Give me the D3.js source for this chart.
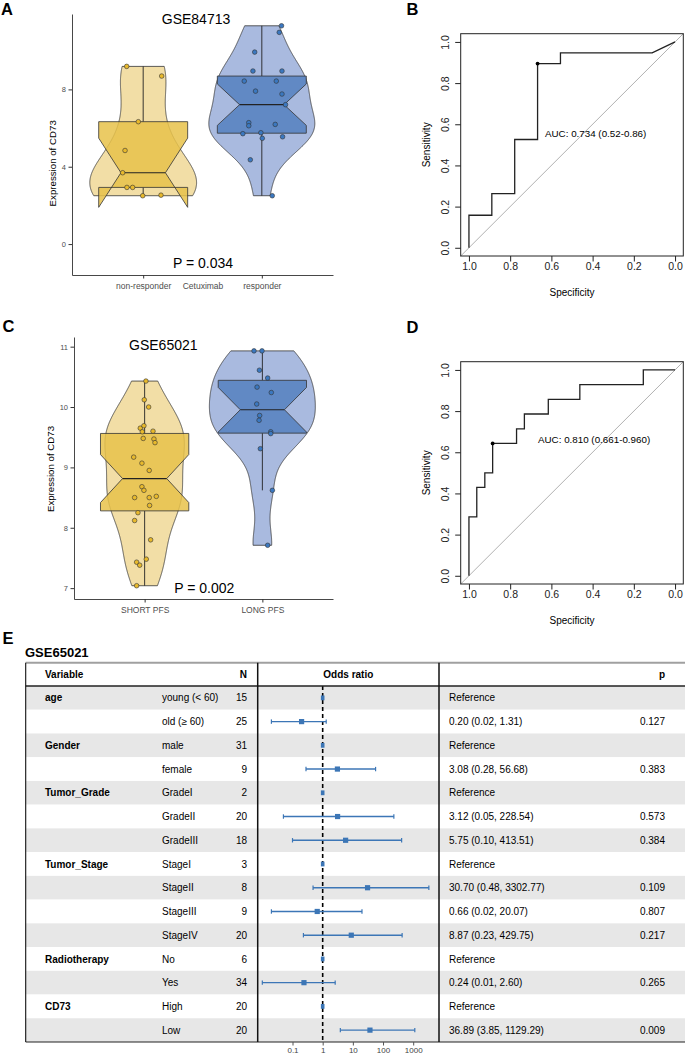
<!DOCTYPE html>
<html>
<head>
<meta charset="utf-8">
<script src="https://cdn.jsdelivr.net/npm/d3@7"></script>
<style>
  body { margin: 0; background: #fff; }
  svg { display: block; }
</style>
</head>
<body>
<svg id="fig" width="685" height="1054"></svg>
<script>
// ---- panel A : GSE84713, Cetuximab response
var groupsA = ["non-responder", "responder"];
var nonRespA = [9.19, 8.69, 6.33, 4.84, 3.69, 2.93, 2.93, 2.50, 2.53];
var nonRespJitA = [-0.139, 0.156, -0.041, -0.153, -0.173, -0.137, -0.089, -0.004, 0.150];
var respA = [11.29, 10.95, 9.93, 8.95, 8.95, 8.43, 8.43, 7.91, 7.76, 7.21, 6.28, 6.12, 6.19, 5.71, 5.76, 5.47, 5.55, 4.36, 2.50];
var respJitA = [0.166, 0.147, -0.06, -0.075, 0.17, -0.148, 0.122, -0.053, 0.17, 0.20, -0.11, -0.11, 0.113, -0.16, -0.008, 0.004, 0.175, -0.097, 0.088];
var ticksA = [0, 4, 8];

// ---- panel C : GSE65021, PFS
var groupsC = ["SHORT PFS", "LONG PFS"];
var shortC = [10.43, 10.12, 10.0, 9.65, 9.69, 9.59, 9.60, 9.48, 9.47, 9.41, 9.17, 9.07, 8.95, 8.68, 8.62, 8.50, 8.50, 8.52, 8.37, 8.25, 8.12, 7.80, 7.48, 7.43, 7.38, 7.04];
var shortJitC = [0.011, -0.003, 0.034, -0.037, -0.006, -0.02, 0.071, -0.012, 0.079, 0.088, -0.093, -0.023, 0.039, -0.023, -0.006, -0.085, 0.039, 0.099, 0.042, -0.057, -0.085, 0.051, 0.014, -0.068, -0.042, -0.068];
var longC = [10.93, 10.93, 10.61, 10.48, 10.33, 10.24, 10.05, 9.86, 9.78, 9.59, 9.56, 9.31, 8.62, 7.71];
var longJitC = [-0.071, -0.003, -0.025, 0.045, -0.045, 0.076, -0.048, -0.023, -0.028, 0.071, 0.071, -0.017, 0.085, 0.045];
var ticksC = [7, 8, 9, 10, 11];

// ---- ROC curves (specificity, sensitivity)
var rocSpecB = [1, 1, 0.889, 0.889, 0.778, 0.778, 0.667, 0.667, 0.556, 0.556, 0.111, 0];
var rocSensB = [0, 0.158, 0.158, 0.263, 0.263, 0.526, 0.526, 0.895, 0.895, 0.947, 0.947, 1];
var bestB = [0.667, 0.895];
var rocSpecD = [1, 1, 0.962, 0.962, 0.923, 0.923, 0.885, 0.885, 0.769, 0.769, 0.731, 0.731, 0.615, 0.615, 0.462, 0.462, 0.154, 0.154, 0];
var rocSensD = [0, 0.286, 0.286, 0.429, 0.429, 0.5, 0.5, 0.643, 0.643, 0.714, 0.714, 0.786, 0.786, 0.857, 0.857, 0.929, 0.929, 1, 1];
var bestD = [0.885, 0.643];
var rocTicks = [1, 0.8, 0.6, 0.4, 0.2, 0];

// ---- panel E : forest table
var fVar = ["age", "", "Gender", "", "Tumor_Grade", "", "", "Tumor_Stage", "", "", "", "Radiotherapy", "", "CD73", ""];
var fLevel = ["young (< 60)", "old (\u2265 60)", "male", "female", "GradeI", "GradeII", "GradeIII", "StageI", "StageII", "StageIII", "StageIV", "No", "Yes", "High", "Low"];
var fN = [15, 25, 31, 9, 2, 20, 18, 3, 8, 9, 20, 6, 34, 20, 20];
var fOR = [null, 0.20, null, 3.08, null, 3.12, 5.75, null, 30.70, 0.66, 8.87, null, 0.24, null, 36.89];
var fLo = [null, 0.02, null, 0.28, null, 0.05, 0.10, null, 0.48, 0.02, 0.23, null, 0.01, null, 3.85];
var fHi = [null, 1.31, null, 56.68, null, 228.54, 413.51, null, 3302.77, 20.07, 429.75, null, 2.60, null, 1129.29];
var fP = [null, "0.127", null, "0.383", null, "0.573", "0.384", null, "0.109", "0.807", "0.217", null, "0.265", null, "0.009"];
var forestTicks = [0.1, 1, 10, 100, 1000];

var FONT = '"Liberation Sans", Arial, Helvetica, sans-serif';
var svg = d3.select("#fig").attr("font-family", FONT);
svg.append("rect").attr("width", 685).attr("height", 1054).attr("fill", "#fff");

function label(txt, x, y, size, opts) {
  opts = opts || {};
  var t = svg.append("text").attr("x", x).attr("y", y).attr("font-size", size)
    .attr("text-anchor", opts.anchor || "start").attr("fill", opts.fill || "#000").text(txt);
  if (opts.bold) t.attr("font-weight", "bold");
  if (opts.rotate) t.attr("transform", "rotate(-90," + x + "," + y + ")");
  return t;
}

// violin + notched box + jitter, ggplot style
function violinPanel(o) {
  var g = svg.append("g");
  var x = d3.scaleLinear().domain([0.4, 2.6]).range([o.left, o.right]);
  var y = d3.scaleLinear().domain(o.domain).range([o.bottom, o.top]);
  var unit = x(1) - x(0);

  var stats = o.values.map(function (vals) {
    var s = vals.slice().sort(d3.ascending);
    var q1 = d3.quantile(s, 0.25), med = d3.quantile(s, 0.5), q3 = d3.quantile(s, 0.75);
    var iqr = q3 - q1;
    var bw = 0.9 * Math.min(d3.deviation(s), iqr / 1.34) * Math.pow(s.length, -0.2);
    var grid = d3.range(512).map(function (i) { return s[0] + (s[s.length - 1] - s[0]) * i / 511; });
    var dens = grid.map(function (t) {
      var k = d3.sum(s, function (xi) { var z = (t - xi) / bw; return Math.exp(-0.5 * z * z); });
      return { v: t, d: k / (s.length * bw * Math.sqrt(2 * Math.PI)) };
    });
    var notch = 1.58 * iqr / Math.sqrt(s.length);
    return {
      q1: q1, med: med, q3: q3, nl: med - notch, nu: med + notch,
      lo: d3.min(s.filter(function (v) { return v >= q1 - 1.5 * iqr; })),
      hi: d3.max(s.filter(function (v) { return v <= q3 + 1.5 * iqr; })),
      dens: dens
    };
  });
  var maxD = d3.max(stats, function (st) { return d3.max(st.dens, function (p) { return p.d; }); });

  stats.forEach(function (st, i) {
    var cx = x(i + 1);
    var area = d3.area()
      .y(function (p) { return y(p.v); })
      .x0(function (p) { return cx - 0.45 * unit * p.d / maxD; })
      .x1(function (p) { return cx + 0.45 * unit * p.d / maxD; });
    g.append("path").datum(st.dens).attr("d", area)
      .attr("fill", o.violinFill[i]).attr("stroke", "#333").attr("stroke-width", 0.8);
  });

  stats.forEach(function (st, i) {
    var cx = x(i + 1), hw = 0.375 * unit, nw = hw * 0.5;
    // whiskers
    g.append("line").attr("x1", cx).attr("x2", cx).attr("y1", y(st.q3)).attr("y2", y(st.hi))
      .attr("stroke", "#222").attr("stroke-width", 0.9);
    g.append("line").attr("x1", cx).attr("x2", cx).attr("y1", y(st.q1)).attr("y2", y(st.lo))
      .attr("stroke", "#222").attr("stroke-width", 0.9);
    var pts = [[cx - hw, st.q3], [cx - hw, st.nu], [cx - nw, st.med], [cx - hw, st.nl], [cx - hw, st.q1],
               [cx + hw, st.q1], [cx + hw, st.nl], [cx + nw, st.med], [cx + hw, st.nu], [cx + hw, st.q3]];
    g.append("path").attr("d", d3.line().x(function (p) { return p[0]; }).y(function (p) { return y(p[1]); })(pts) + "Z")
      .attr("fill", o.boxFill[i]).attr("fill-opacity", 0.85).attr("stroke", "#333").attr("stroke-width", 0.8);
    g.append("line").attr("x1", cx - nw).attr("x2", cx + nw).attr("y1", y(st.med)).attr("y2", y(st.med))
      .attr("stroke", "#222").attr("stroke-width", 1.2);
  });

  o.values.forEach(function (vals, i) {
    g.selectAll(null).data(vals).enter().append("circle")
      .attr("cx", function (d, j) { return x(i + 1 + o.jitter[i][j]); })
      .attr("cy", function (d) { return y(d); })
      .attr("r", 2.3).attr("fill", o.pointFill[i]).attr("stroke", "#333").attr("stroke-width", 0.6);
  });

  var ya = g.append("g").attr("transform", "translate(" + o.left + ",0)")
    .call(d3.axisLeft(y).tickValues(o.ticks).tickFormat(d3.format("d")).tickSize(3.5).tickSizeOuter(0).tickPadding(2.5));
  ya.attr("font-family", FONT).attr("font-size", 7.5);
  ya.select(".domain").attr("stroke", "#333").attr("stroke-width", 0.9);
  ya.selectAll(".tick line").attr("stroke", "#333");
  ya.selectAll(".tick text").attr("fill", "#4d4d4d");

  var xa = g.append("g").attr("transform", "translate(0," + o.bottom + ")")
    .call(d3.axisBottom(x).tickValues([1, 2]).tickFormat(function (d) { return o.groups[d - 1]; })
      .tickSize(3.5).tickSizeOuter(0));
  xa.attr("font-family", FONT).attr("font-size", 8.5);
  xa.select(".domain").attr("stroke", "#333").attr("stroke-width", 0.9);
  xa.selectAll(".tick line").attr("stroke", "#333");
  xa.selectAll(".tick text").attr("fill", "#4d4d4d").attr("y", 13.5).attr("dy", 0);
  return x;
}

function rocPanel(o) {
  var g = svg.append("g");
  var x = d3.scaleLinear().domain([1.04, -0.04]).range([o.left, o.right]);
  var y = d3.scaleLinear().domain([-0.04, 1.04]).range([o.bottom, o.top]);
  var diag = [[x.domain()[0], y.domain()[0]], [x.domain()[1], y.domain()[1]]];
  g.append("path").attr("d", d3.line().x(function (p) { return x(p[0]); }).y(function (p) { return y(1 - p[0]); })(diag))
    .attr("stroke", "#a8a8a8").attr("stroke-width", 0.9).attr("fill", "none");
  g.append("path").datum(d3.zip(o.spec, o.sens))
    .attr("d", d3.line().x(function (p) { return x(p[0]); }).y(function (p) { return y(p[1]); }))
    .attr("fill", "none").attr("stroke", "#222").attr("stroke-width", 1.3);
  g.append("circle").attr("cx", x(o.best[0])).attr("cy", y(o.best[1])).attr("r", 1.9).attr("fill", "#000");
  g.append("text").attr("x", o.aucX).attr("y", y(o.aucY)).attr("font-size", 9.8).text(o.auc);
  g.append("rect").attr("x", o.left).attr("y", o.top).attr("width", o.right - o.left).attr("height", o.bottom - o.top)
    .attr("fill", "none").attr("stroke", "#222").attr("stroke-width", 1);

  var xa = g.append("g").attr("transform", "translate(0," + o.bottom + ")")
    .call(d3.axisBottom(x).tickValues(rocTicks).tickFormat(d3.format(".1f")).tickSize(5.5));
  xa.attr("font-family", FONT).attr("font-size", 10.5);
  xa.select(".domain").remove();
  xa.selectAll(".tick line").attr("stroke", "#222");
  xa.selectAll(".tick text").attr("fill", "#222").attr("y", 13.5).attr("dy", 0);

  var ya = g.append("g").attr("transform", "translate(" + o.left + ",0)")
    .call(d3.axisLeft(y).tickValues(rocTicks).tickFormat(d3.format(".1f")).tickSize(5.5));
  ya.attr("font-family", FONT).attr("font-size", 10.5);
  ya.select(".domain").remove();
  ya.selectAll(".tick line").attr("stroke", "#222");
  ya.selectAll(".tick text").attr("fill", "#222").attr("transform", "rotate(-90)")
    .attr("x", 0).attr("y", -11.5).attr("dy", 0).attr("text-anchor", "middle");

  label("Specificity", (o.left + o.right) / 2, o.bottom + 39.5, 10, { anchor: "middle" });
  label("Sensitivity", o.left - 31, (o.top + o.bottom) / 2, 10, { anchor: "middle", rotate: true });
}

// ---------- panel A
label("A", 1, 15, 16.5, { bold: true });
violinPanel({
  left: 72, right: 333, top: 14, bottom: 275, domain: [-1.6, 11.9], ticks: ticksA,
  groups: groupsA, values: [nonRespA, respA], jitter: [nonRespJitA, respJitA],
  violinFill: ["#f2dea6", "#a9badf"], boxFill: ["#e8c24a", "#5580c0"], pointFill: ["#e8b92c", "#3b78c0"]
});
label("GSE84713", 196, 24, 14, { anchor: "middle" });
label("P = 0.034", 203, 268.3, 14, { anchor: "middle" });
label("Cetuximab", 203, 288.5, 8.5, { anchor: "middle", fill: "#4d4d4d" });
label("Expression of CD73", 56.5, 163.3, 9.7, { anchor: "middle", rotate: true });

// ---------- panel B
label("B", 406.5, 15, 16.5, { bold: true });
rocPanel({ left: 460.7, right: 683.3, top: 33.7, bottom: 256, spec: rocSpecB, sens: rocSensB, best: bestB,
  auc: "AUC: 0.734 (0.52-0.86)", aucX: 545, aucY: 0.537 });

// ---------- panel C
label("C", 2.5, 332.3, 16.5, { bold: true });
violinPanel({
  left: 74, right: 333, top: 337, bottom: 599, domain: [6.82, 11.16], ticks: ticksC,
  groups: groupsC, values: [shortC, longC], jitter: [shortJitC, longJitC],
  violinFill: ["#f2dea6", "#a9badf"], boxFill: ["#e8c24a", "#5580c0"], pointFill: ["#e8b92c", "#3b78c0"]
});
label("GSE65021", 163.3, 350, 14, { anchor: "middle" });
label("P = 0.002", 204.3, 593, 14, { anchor: "middle" });
label("Expression of CD73", 53.5, 469, 9.7, { anchor: "middle", rotate: true });

// ---------- panel D
label("D", 406.5, 333.3, 16.5, { bold: true });
rocPanel({ left: 460.7, right: 683.3, top: 361.7, bottom: 584, spec: rocSpecD, sens: rocSensD, best: bestD,
  auc: "AUC: 0.810 (0.661-0.960)", aucX: 538, aucY: 0.644 });

// ---------- panel E : forest plot table
label("E", 2.5, 644, 16.5, { bold: true });
label("GSE65021", 25, 657.3, 13, { bold: true });

var tLeft = 25.7, tRight = 685, tTop = 662.7, hBot = 686, tBot = 1042;
var col1 = 257.7, col2 = 439;
var fy = d3.scaleBand().domain(d3.range(fLevel.length)).range([hBot, tBot]);
var fx = d3.scaleLog().domain([0.1, 1000]).range([292.5, 413.2]);
var fe = svg.append("g");

fe.selectAll("rect.stripe").data(fLevel).enter().append("rect")
  .attr("x", tLeft).attr("width", tRight - tLeft)
  .attr("y", function (d, i) { return fy(i); }).attr("height", fy.bandwidth())
  .attr("fill", function (d, i) { return i % 2 === 0 ? "#e7e7e7" : "#fff"; });

var cy = function (i) { return fy(i) + fy.bandwidth() / 2 + 3.6; };
fe.selectAll("text.var").data(fVar).enter().append("text")
  .attr("x", 45).attr("y", function (d, i) { return cy(i); }).attr("font-size", 10).attr("font-weight", "bold").text(function (d) { return d; });
fe.selectAll("text.lev").data(fLevel).enter().append("text")
  .attr("x", 162).attr("y", function (d, i) { return cy(i); }).attr("font-size", 10).text(function (d) { return d; });
fe.selectAll("text.n").data(fN).enter().append("text")
  .attr("x", 247).attr("y", function (d, i) { return cy(i); }).attr("font-size", 10).attr("text-anchor", "end").text(function (d) { return d; });
var f2 = d3.format(".2f");
fe.selectAll("text.est").data(fOR).enter().append("text")
  .attr("x", 449).attr("y", function (d, i) { return cy(i); }).attr("font-size", 10)
  .text(function (d, i) { return d === null ? "Reference" : f2(d) + " (" + f2(fLo[i]) + ", " + f2(fHi[i]) + ")"; });
fe.selectAll("text.p").data(fP).enter().append("text")
  .attr("x", 665).attr("y", function (d, i) { return cy(i); }).attr("font-size", 10).attr("text-anchor", "end")
  .text(function (d) { return d === null ? "" : d; });

// header
var hy = (tTop + hBot) / 2 + 3.6;
label("Variable", 45, hy, 10, { bold: true });
label("N", 247, hy, 10, { bold: true, anchor: "end" });
label("Odds ratio", (col1 + col2) / 2, hy, 10, { bold: true, anchor: "middle" });
label("p", 665, hy, 10, { bold: true, anchor: "end" });

// reference line at OR = 1
fe.append("line").attr("x1", fx(1)).attr("x2", fx(1)).attr("y1", hBot).attr("y2", tBot)
  .attr("stroke", "#000").attr("stroke-width", 1.6).attr("stroke-dasharray", "4,3");

// estimates
var blue = "#3c76b6";
fOR.forEach(function (or, i) {
  var yc = fy(i) + fy.bandwidth() / 2;
  if (or === null) {
    fe.append("rect").attr("x", fx(1) - 1.8).attr("y", yc - 2.4).attr("width", 3.6).attr("height", 4.8).attr("fill", blue);
    return;
  }
  fe.append("line").attr("x1", fx(fLo[i])).attr("x2", fx(fHi[i])).attr("y1", yc).attr("y2", yc)
    .attr("stroke", blue).attr("stroke-width", 1.4);
  [fLo[i], fHi[i]].forEach(function (v) {
    fe.append("line").attr("x1", fx(v)).attr("x2", fx(v)).attr("y1", yc - 2.2).attr("y2", yc + 2.2)
      .attr("stroke", blue).attr("stroke-width", 1.2);
  });
  fe.append("rect").attr("x", fx(or) - 2.6).attr("y", yc - 2.6).attr("width", 5.2).attr("height", 5.2).attr("fill", blue);
});

// table rules
fe.append("line").attr("x1", tLeft).attr("x2", tRight).attr("y1", tTop).attr("y2", tTop).attr("stroke", "#a0a0a0").attr("stroke-width", 2);
fe.append("line").attr("x1", tLeft).attr("x2", tRight).attr("y1", hBot).attr("y2", hBot).attr("stroke", "#222").attr("stroke-width", 1.4);
fe.append("line").attr("x1", tLeft).attr("x2", tRight).attr("y1", tBot).attr("y2", tBot).attr("stroke", "#222").attr("stroke-width", 1.2);
[tLeft, col1, col2].forEach(function (cx) {
  fe.append("line").attr("x1", cx).attr("x2", cx).attr("y1", tTop).attr("y2", tBot).attr("stroke", "#111").attr("stroke-width", cx === tLeft ? 1.1 : 1.5);
});

// log axis under the forest column
var fa = fe.append("g").attr("transform", "translate(0," + tBot + ")")
  .call(d3.axisBottom(fx).tickValues(forestTicks).tickFormat(function (d) { return String(d); }).tickSize(3.5));
fa.attr("font-family", FONT).attr("font-size", 8);
fa.select(".domain").remove();
fa.selectAll(".tick line").attr("stroke", "#555");
fa.selectAll(".tick text").attr("fill", "#444").attr("y", 10.5).attr("dy", 0);
</script>
</body>
</html>
